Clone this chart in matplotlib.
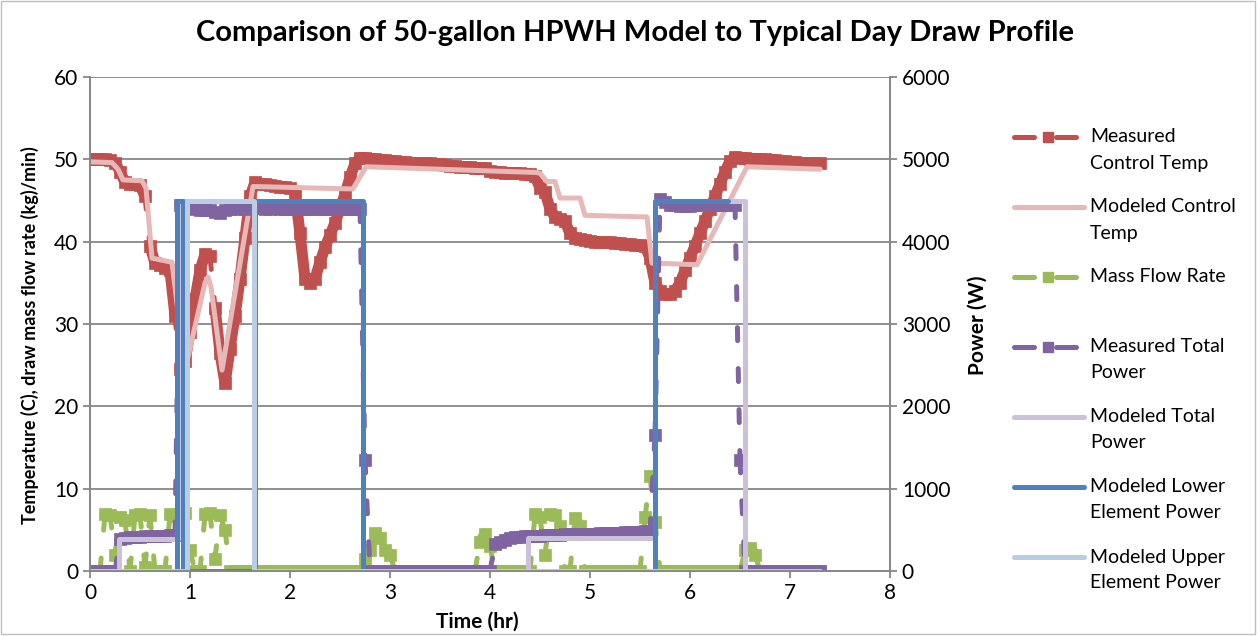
import numpy as np
import matplotlib
matplotlib.use("Agg")
import matplotlib.pyplot as plt
from matplotlib.lines import Line2D

plt.rcParams['font.family'] = ['Lato', 'DejaVu Sans']

t_meas = np.round(np.arange(147) * 0.05, 2)

measured_temp = [
    50.0, 50.0, 50.0, 50.0, 49.9, 49.6, 48.5, 47.2, 47.0, 47.0,
    46.9, 45.5, 39.5, 37.4, 37.2, 36.8, 36.5, 31.0, 24.5, 25.5,
    29.0, 33.0, 36.5, 38.5, 38.2, 32.0, 26.5, 22.8, 27.0, 31.0,
    35.5, 40.5, 45.5, 47.2, 47.0, 47.0, 46.9, 46.8, 46.7, 46.6,
    46.5, 46.0, 41.0, 35.5, 35.0, 35.5, 37.5, 39.3, 40.8, 42.3,
    44.0, 45.8, 47.8, 49.5, 50.2, 50.2, 50.1, 50.0, 49.9, 49.9,
    49.8, 49.8, 49.7, 49.7, 49.6, 49.6, 49.5, 49.5, 49.5, 49.4,
    49.4, 49.3, 49.2, 49.2, 49.1, 49.1, 49.1, 49.0, 49.0, 48.9,
    48.6, 48.5, 48.5, 48.4, 48.4, 48.3, 48.3, 48.2, 48.2, 48.0,
    46.5, 46.0, 44.0, 43.0, 42.8, 42.5, 41.0, 40.5, 40.3, 40.2,
    40.1, 40.0, 40.0, 39.9, 39.9, 39.8, 39.8, 39.7, 39.7, 39.6,
    39.6, 39.5, 38.0, 35.0, 34.0, 33.7, 33.7, 34.0, 35.0, 36.5,
    38.0, 39.5, 41.0, 42.5, 44.0, 45.5, 47.0, 48.5, 49.8, 50.3,
    50.2, 50.2, 50.1, 50.1, 50.0, 50.0, 49.9, 49.9, 49.8, 49.8,
    49.7, 49.7, 49.6, 49.6, 49.6, 49.5, 49.5,
]

mass_flow = [
    0, 0, 0, 6.9, 6.8, 2.0, 6.6, 6.2, 0, 6.8,
    6.9, 0.5, 6.8, 0, 0, 0, 6.9, 6.7, 6.9, 7.0,
    2.5, 0, 0, 6.9, 7.0, 1.5, 6.8, 5.0, 0, 0,
    0, 0, 0, 0, 0, 0, 0, 0, 0, 0,
    0, 0, 0, 0, 0, 0, 0, 0, 0, 0,
    0, 0, 0, 0, 0, 1.5, 2.5, 4.6, 4.0, 2.5,
    2.0, 0, 0, 0, 0, 0, 0, 0, 0, 0,
    0, 0, 0, 0, 0, 0, 0, 0, 3.5, 4.5,
    3.0, 0, 0, 0, 0, 0, 0, 0, 0, 6.9,
    6.5, 2.0, 6.9, 6.8, 5.5, 0, 0, 6.4, 5.5, 0,
    0, 0, 0, 0, 0, 0, 0, 0, 0, 0,
    0, 6.5, 11.5, 6.0, 0, 0, 0, 0, 0, 0,
    0, 0, 0, 0, 0, 0, 0, 0, 0, 0,
    0, 2.5, 2.8, 2.0, 0, 0, 0, 0, 0, 0,
    0, 0, 0, 0, 0, 0, 0,
]

measured_power = [
    0, 0, 0, 0, 0, 0, 390, 400, 410, 410,
    415, 420, 420, 425, 430, 430, 440, 440, 4450, 4450,
    4430, 4400, 4380, 4390, 4380, 4360, 4350, 4380, 4400, 4400,
    4410, 4400, 4420, 4420, 4410, 4400, 4400, 4410, 4400, 4400,
    4400, 4400, 4400, 4400, 4400, 4400, 4400, 4400, 4400, 4400,
    4400, 4400, 4400, 4400, 4400, 1350, 0, 0, 0, 0,
    0, 0, 0, 0, 0, 0, 0, 0, 0, 0,
    0, 0, 0, 0, 0, 0, 0, 0, 0, 0,
    0, 330, 350, 380, 400, 410, 415, 420, 425, 430,
    430, 435, 435, 440, 440, 445, 445, 450, 450, 450,
    455, 455, 460, 460, 460, 465, 465, 470, 470, 470,
    475, 480, 480, 1650, 4520, 4480, 4450, 4440, 4430, 4430,
    4430, 4440, 4440, 4450, 4450, 4450, 4450, 4450, 4450, 4450,
    1350, 0, 0, 0, 0, 0, 0, 0, 0, 0,
    0, 0, 0, 0, 0, 0, 0,
]

# ---- modeled data (breakpoints) ----
t_model_temp = [0, 0.22, 0.28, 0.33, 0.52, 0.56, 0.62, 0.82, 0.95, 1.15, 1.18,
                1.21, 1.32, 1.63, 2.63, 2.76, 4.47, 4.50, 4.57, 4.65, 4.70,
                4.90, 4.95, 5.57, 5.62, 6.07, 6.57, 7.30]
model_temp = [49.7, 49.6, 48.8, 47.5, 47.4, 46.5, 38.0, 37.5, 24.4, 35.0, 35.7,
              34.5, 24.4, 46.7, 46.4, 49.1, 48.4, 48.3, 47.3, 47.3, 45.3,
              45.3, 43.2, 43.0, 37.4, 37.2, 49.1, 48.8]

t_total = [0, 0.29, 0.88, 2.73, 4.38, 5.65, 6.55, 7.30]
model_total = [0, 390, 4500, 0, 400, 4500, 0, 0]

t_lower = [0, 0.87, 0.93, 1.65, 2.73, 5.65, 6.38]
model_lower = [0, 4500, 0, 4500, 0, 4500, 4500]

t_upper = [0, 0.965, 1.64, 7.30]
model_upper = [0, 4500, 0, 0]

RED, PINK, GREEN = '#C0504D', '#E6B9B8', '#9BBB59'
PURPLE, LPURPLE = '#8064A2', '#CCC1DA'
BLUE, LBLUE = '#4F81BD', '#B9CDE5'
GRID = '#878787'
DASH = (0, (2.6, 5.6))
MS = 8

fig = plt.figure(figsize=(12.57, 6.36), dpi=100)
ax = fig.add_axes([90 / 1257, 1 - 571 / 636, 800 / 1257, 494 / 636])
ax2 = ax.twinx()


def measured(a, y, color, jump):
    # dense samples look like a solid band; big jumps show the dashed line
    y = np.asarray(y, float)
    big = np.abs(np.diff(y)) > jump
    start = 0
    for i, b in enumerate(big):
        if b:
            if i > start:
                a.plot(t_meas[start:i + 1], y[start:i + 1], color=color,
                       lw=MS, solid_capstyle='round', solid_joinstyle='round')
            a.plot(t_meas[i:i + 2], y[i:i + 2], color=color, lw=3.6,
                   linestyle=DASH, dash_capstyle='round')
            start = i + 1
    if start < len(y) - 1:
        a.plot(t_meas[start:], y[start:], color=color, lw=MS,
               solid_capstyle='round', solid_joinstyle='round')
    a.plot(t_meas, y, ls='none', marker='s', markersize=MS,
           markerfacecolor=color, markeredgecolor=color, markeredgewidth=0.5)


def modeled(a, t, y, color, steps=False):
    a.plot(t, y, color=color, lw=3.6, solid_capstyle='round',
           solid_joinstyle='round', drawstyle='steps-post' if steps else 'default')


measured(ax, measured_temp, RED, 5.8)
modeled(ax, t_model_temp, model_temp, PINK)
measured(ax, mass_flow, GREEN, 1.0)

measured(ax2, measured_power, PURPLE, 300)
modeled(ax2, t_total, model_total, LPURPLE, steps=True)
modeled(ax2, t_lower, model_lower, BLUE, steps=True)
modeled(ax2, t_upper, model_upper, LBLUE, steps=True)

ax.set_xlim(0, 8)
ax.set_ylim(0, 60)
ax2.set_ylim(0, 6000)
ax.set_xticks(range(0, 9))
ax.set_yticks(range(0, 61, 10))
ax2.set_yticks(range(0, 6001, 1000))
ax.yaxis.grid(True, color=GRID, lw=1.3)
ax.set_axisbelow(True)

for a in (ax, ax2):
    a.spines['top'].set_visible(False)
    for s in ('left', 'right', 'bottom'):
        a.spines[s].set_color(GRID)
        a.spines[s].set_linewidth(1.3)
    a.tick_params(colors=GRID, labelcolor='black', labelsize=15, length=5,
                  width=1.3, direction='out')

ax.set_xlabel('Time (hr)', fontsize=15, fontweight='bold')
ax.xaxis.set_label_coords(0.484, -0.103)
ax.xaxis.label.set_va('center')
ax.set_ylabel('Temperature (C), draw mass flow rate (kg)/min)',
              fontsize=13, fontweight='bold')
ax.yaxis.set_label_coords(-0.075, 0.478)
ax.yaxis.label.set_va('center')
ax2.set_ylabel('Power (W)', fontsize=15, fontweight='bold')
ax2.yaxis.set_label_coords(1.11, 0.498)
ax2.yaxis.label.set_va('center')

fig.text(635 / 1257, 1 - 33 / 636,
         'Comparison of 50-gallon HPWH Model to Typical Day Draw Profile',
         ha='center', va='center', fontsize=21, fontweight='bold')

# ---- legend drawn in pixel coordinates, Excel style ----
lg = fig.add_axes([0, 0, 1, 1], facecolor='none')
lg.set_xlim(0, 1257)
lg.set_ylim(636, 0)
lg.axis('off')
entries = [
    ('Measured', 'Control Temp', RED, True),
    ('Modeled Control', 'Temp', PINK, False),
    ('Mass Flow Rate', None, GREEN, True),
    ('Measured Total', 'Power', PURPLE, True),
    ('Modeled Total', 'Power', LPURPLE, False),
    ('Modeled Lower', 'Element Power', BLUE, False),
    ('Modeled Upper', 'Element Power', LBLUE, False),
]
for i, (l1, l2, c, is_meas) in enumerate(entries):
    y = 137 + 70 * i
    if is_meas:
        lg.add_line(Line2D([1014, 1034], [y, y], color=c, lw=3.6,
                           solid_capstyle='round'))
        lg.add_line(Line2D([1056, 1076], [y, y], color=c, lw=3.6,
                           solid_capstyle='round'))
        lg.add_line(Line2D([1048], [y], color=c, marker='s', markersize=7.5,
                           markeredgecolor=c))
    else:
        lg.add_line(Line2D([1014, 1084], [y, y], color=c, lw=3.6,
                           solid_capstyle='round'))
    lg.text(1090, y, l1, fontsize=14, va='center', ha='left')
    if l2:
        lg.text(1090, y + 26, l2, fontsize=14, va='center', ha='left')

lg.add_patch(plt.Rectangle((1, 1), 1254, 633, fill=False, edgecolor='#BFBFBF', lw=1))

fig.savefig('out.png', dpi=100)
